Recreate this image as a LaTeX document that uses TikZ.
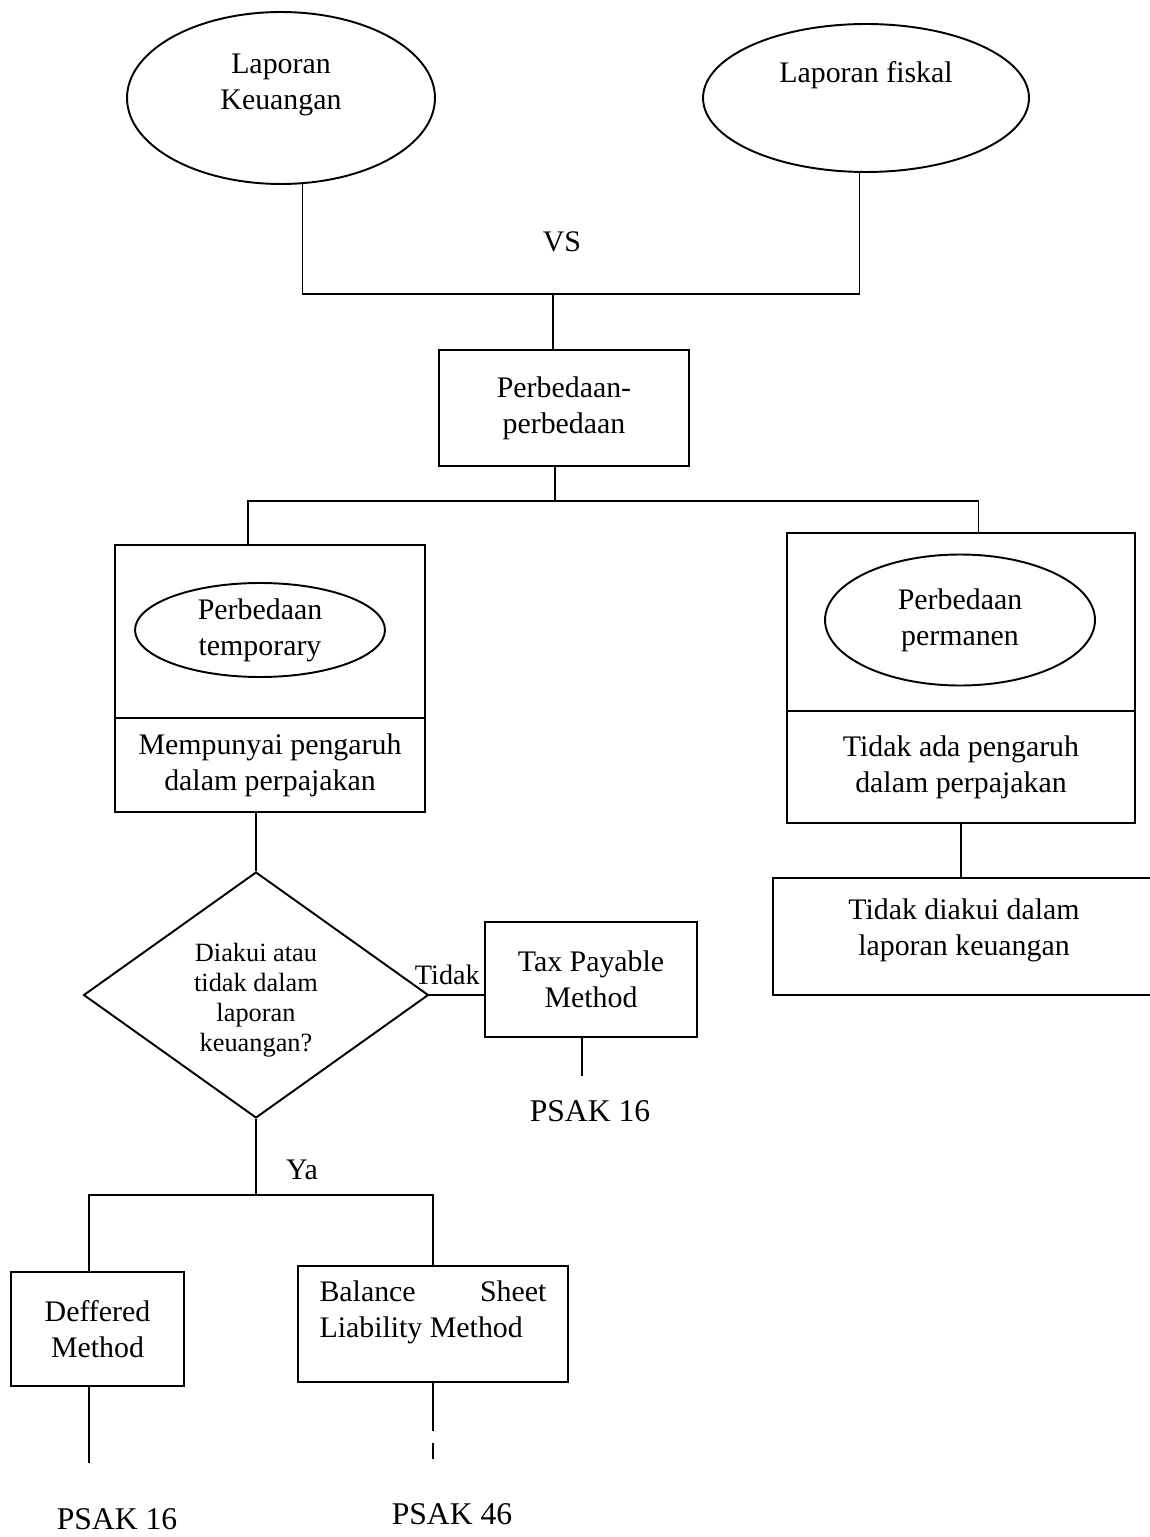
\documentclass[tikz,border=0pt]{standalone}
\usepackage{fontspec}
\setmainfont{Liberation Serif}
\usetikzlibrary{shapes.geometric,calc}

\begin{document}
\begin{tikzpicture}[
  x=0.02cm, y=-0.02cm,
  line width=1.1pt,
  font=\fontsize{17}{20.5}\selectfont,
  oval/.style={draw, ellipse, inner sep=0pt, align=center},
  plainbox/.style={draw, rectangle, inner sep=0pt, align=center},
  decision/.style={draw, diamond, inner sep=0pt, align=center,
                   font=\fontsize{15}{17}\selectfont},
  psak/.style={font=\fontsize{18}{21}\selectfont},
]
  \useasboundingbox (0,0) rectangle (1149,1537);

  % Two reports (top)
  \node[oval, minimum width=6.16cm, minimum height=3.44cm,
        label={[align=center, yshift=0.26cm]center:Laporan\\Keuangan}] (lapKeu) at (281,98) {};
  \node[oval, minimum width=6.52cm, minimum height=2.96cm,
        label={[yshift=0.46cm]center:Laporan fiskal}] (lapFis) at (866,98) {};
  \node (vs) at (562,242) {VS};

  \node[plainbox, minimum width=5cm, minimum height=2.32cm] (beda) at (564,408)
    {Perbedaan-\\perbedaan};

  % Temporary differences (left)
  \node[plainbox, minimum width=6.2cm, minimum height=3.46cm] (tempTop) at (270,631.5) {};
  \node[oval, minimum width=5cm, minimum height=1.88cm] (tempOval) at (260,630)
    {Perbedaan\\temporary};
  \node[plainbox, minimum width=6.2cm, minimum height=1.88cm] (tempBot) at (270,765)
    {Mempunyai pengaruh\\dalam perpajakan};

  % Permanent differences (right)
  \node[plainbox, minimum width=6.96cm, minimum height=3.56cm] (permTop) at (961,622) {};
  \node[oval, minimum width=5.4cm, minimum height=2.62cm] (permOval) at (960,620)
    {Perbedaan\\permanen};
  \node[plainbox, minimum width=6.96cm, minimum height=2.24cm] (permBot) at (961,767)
    {Tidak ada pengaruh\\dalam perpajakan};
  \node[plainbox, minimum width=7.64cm, minimum height=2.34cm,
        label={[align=center, yshift=0.12cm]center:Tidak diakui dalam\\laporan keuangan}]
    (notRec) at (964,936.5) {};

  % Decision and methods
  \node[decision, minimum width=6.9cm, minimum height=4.92cm,
        label={[align=center, font=\fontsize{15}{17}\selectfont, yshift=-0.1cm]center:Diakui atau\\tidak dalam\\laporan\\keuangan?}]
    (decide) at (256,995) {};
  \node[plainbox, minimum width=4.24cm, minimum height=2.3cm] (taxPay) at (591,979.5)
    {Tax Payable\\Method};
  \node[plainbox, minimum width=3.46cm, minimum height=2.28cm] (deffered) at (97.5,1329)
    {Deffered\\Method};
  \node[plainbox, minimum width=5.4cm, minimum height=2.32cm,
        label={[align=left, yshift=0.24cm]center:{\makebox[4.54cm][s]{Balance\hfill Sheet}\\\mbox{Liability Method}\hspace{0.56cm}}}]
    (balSheet) at (433,1324) {};

  \node[psak] (psakTax) at (590,1111) {PSAK 16};
  \node[psak] (psakDef) at (117,1519) {PSAK 16};
  \node[psak] (psakBal) at (452,1514) {PSAK 46};
  \node (ya) at (302,1170) {Ya};

  % Connectors
  \coordinate (topJoin) at (553,294);
  \draw (lapKeu.-76) |- (topJoin) -| (lapFis.-95);
  \draw (topJoin) -- (topJoin |- beda.north);

  \coordinate (midJoin) at (555,501);
  \draw (midJoin |- beda.south) -- (midJoin);
  \draw ($(tempTop.north west)!0.43!(tempTop.north east)$) |- (midJoin)
    -| ($(permTop.north west)!0.55!(permTop.north east)$);

  \draw (decide.north |- tempBot.south) -- (decide.north);
  \draw (permBot.south) -- (permBot.south |- notRec.north);

  \draw (decide.east) -- (decide.east -| taxPay.west)
    node[pos=1, anchor=south east, inner sep=2pt, yshift=0.12cm,
         font=\fontsize{16}{19}\selectfont] {Tidak};
  \coordinate (taxEnd) at ($(taxPay.south west)!0.46!(taxPay.south east)+(0,38)$);
  \draw (taxEnd |- taxPay.south) -- (taxEnd);

  \coordinate (yaJoin) at ($(decide.south)+(0,76)$);
  \draw (decide.south) -- (yaJoin);
  \coordinate (defTop) at ($(deffered.north west)!0.45!(deffered.north east)$);
  \draw (defTop) |- (yaJoin) -| (balSheet.north);

  \coordinate (defEnd) at ($(deffered.south west)!0.45!(deffered.south east)+(0,76)$);
  \draw (defEnd |- deffered.south) -- (defEnd);
  \coordinate (balEnd) at ($(balSheet.south)+(0,76)$);
  \draw[dash pattern=on 0.96cm off 0.24cm on 0.32cm off 2cm] (balSheet.south) -- (balEnd);
\end{tikzpicture}
\end{document}
